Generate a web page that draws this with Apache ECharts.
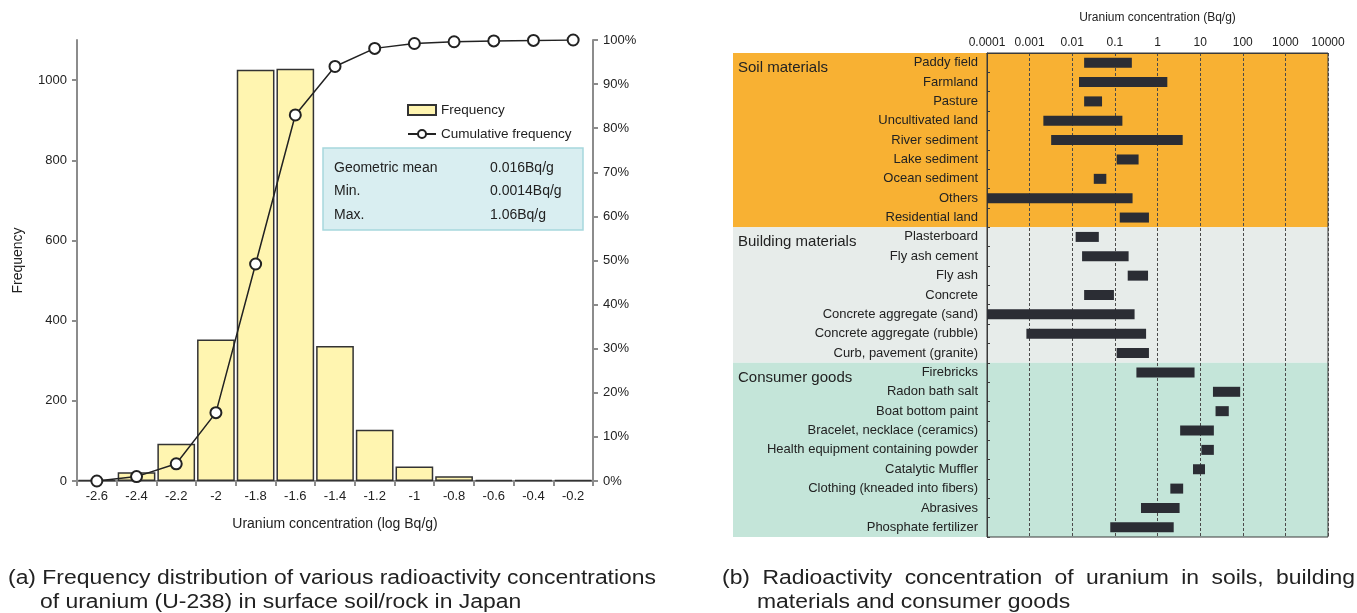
<!DOCTYPE html>
<html>
<head>
<meta charset="utf-8">
<script src="https://cdn.jsdelivr.net/npm/echarts@6/dist/echarts.min.js"></script>
<style>
  html, body { margin: 0; padding: 0; background: #fff; }
  #main { width: 1357px; height: 613px; }
</style>
</head>
<body>
<div id="main"></div>
<script>
// ---- (a) histogram of log10 uranium concentration in surface soil/rock ----
const binLabels = ['-2.6', '-2.4', '-2.2', '-2', '-1.8', '-1.6', '-1.4', '-1.2', '-1', '-0.8', '-0.6', '-0.4', '-0.2'];
const frequency = [2, 22, 93, 353, 1026, 1028, 337, 128, 36, 12, 3, 2, 2];
const cumulative = [0, 1.0, 3.9, 15.5, 49.2, 83.0, 94.0, 98.1, 99.2, 99.6, 99.8, 99.9, 100];
const freqTicks = [0, 200, 400, 600, 800, 1000];
const statLabels = ['Geometric mean', 'Min.', 'Max.'];
const statValues = ['0.016Bq/g', '0.0014Bq/g', '1.06Bq/g'];

// ---- (b) concentration ranges (Bq/g) by material ----
const groupNames = ['Soil materials', 'Building materials', 'Consumer goods'];
const soilItems = ['Paddy field', 'Farmland', 'Pasture', 'Uncultivated land', 'River sediment', 'Lake sediment', 'Ocean sediment', 'Others', 'Residential land'];
const soilMin = [0.019, 0.0144, 0.019, 0.0021, 0.0032, 0.11, 0.032, 0.0001, 0.13];
const soilMax = [0.25, 1.7, 0.05, 0.15, 3.9, 0.36, 0.063, 0.26, 0.63];
const buildingItems = ['Plasterboard', 'Fly ash cement', 'Fly ash', 'Concrete', 'Concrete aggregate (sand)', 'Concrete aggregate (rubble)', 'Curb, pavement (granite)'];
const buildingMin = [0.012, 0.017, 0.2, 0.019, 0.0001, 0.00084, 0.11];
const buildingMax = [0.042, 0.21, 0.6, 0.095, 0.29, 0.54, 0.63];
const consumerItems = ['Firebricks', 'Radon bath salt', 'Boat bottom paint', 'Bracelet, necklace (ceramics)', 'Health equipment containing powder', 'Catalytic Muffler', 'Clothing (kneaded into fibers)', 'Abrasives', 'Phosphate fertilizer'];
const consumerMin = [0.32, 20, 23, 3.4, 10.7, 6.8, 2.0, 0.41, 0.078];
const consumerMax = [7.4, 87, 47, 21, 21, 13, 4.0, 3.3, 2.4];
const concTickLabels = ['0.0001', '0.001', '0.01', '0.1', '1', '10', '100', '1000', '10000'];

const captionA = ['(a) Frequency distribution of various radioactivity concentrations', 'of uranium (U-238) in surface soil/rock in Japan'];
const captionB = ['(b) Radioactivity concentration of uranium in soils, building', 'materials and consumer goods'];

// ---- styling ----
const FONT = '"Liberation Sans", Arial, Helvetica, sans-serif';
const TEXT = '#222';
const AXIS_GRAY = '#8c8c8c';
const bandColors = ['#f8b133', '#e7ecea', '#c4e5d9'];

const groups = [
  { items: soilItems, lo: soilMin, hi: soilMax },
  { items: buildingItems, lo: buildingMin, hi: buildingMax },
  { items: consumerItems, lo: consumerMin, hi: consumerMax }
];
const allItems = [];
const rangeData = [];
const groupSpans = [];
groups.forEach(g => {
  const start = allItems.length;
  g.items.forEach((name, k) => {
    rangeData.push([allItems.length, g.lo[k], g.hi[k]]);
    allItems.push(name);
  });
  groupSpans.push([start, allItems.length - 1]);
});

const chart = echarts.init(document.getElementById('main'), null, { renderer: 'canvas' });

const grayLine = { color: AXIS_GRAY, width: 2 };

chart.setOption({
  animation: false,
  textStyle: { fontFamily: FONT },
  grid: [
    { left: 77, top: 40, width: 516, height: 441 },
    { left: 987, top: 53, width: 341, height: 484, show: true, borderColor: '#3a3a3a', borderWidth: 1, backgroundColor: 'transparent' }
  ],
  legend: {
    orient: 'vertical',
    left: 402,
    top: 98,
    itemWidth: 28,
    itemHeight: 10,
    itemGap: 10,
    textStyle: { fontSize: 13.5, color: TEXT, fontFamily: FONT },
    data: [{ name: 'Frequency', icon: 'rect' }, { name: 'Cumulative frequency' }]
  },
  xAxis: [
    {
      gridIndex: 0,
      type: 'category',
      data: binLabels,
      axisLine: { lineStyle: grayLine },
      axisTick: { show: true, length: 5, lineStyle: grayLine },
      axisLabel: { color: TEXT, fontSize: 13, margin: 9 },
      name: 'Uranium concentration (log Bq/g)',
      nameLocation: 'middle',
      nameGap: 36,
      nameTextStyle: { fontSize: 14, color: TEXT }
    },
    {
      gridIndex: 1,
      type: 'log',
      logBase: 10,
      min: 0.0001,
      max: 10000,
      position: 'top',
      axisLine: { show: true, lineStyle: { color: '#3a3a3a', width: 1 } },
      axisTick: { show: false },
      axisLabel: {
        color: TEXT,
        fontSize: 12,
        margin: 4,
        formatter: v => concTickLabels[Math.round(Math.log10(v)) + 4] || ''
      },
      splitLine: { show: true, lineStyle: { color: '#4a4a4a', width: 1, type: [3, 2] } },
      name: 'Uranium concentration (Bq/g)',
      nameLocation: 'middle',
      nameGap: 29,
      nameTextStyle: { fontSize: 12, color: TEXT }
    }
  ],
  yAxis: [
    {
      gridIndex: 0,
      type: 'value',
      min: 0,
      max: 1100,
      interval: 200,
      splitLine: { show: false },
      axisLine: { show: true, lineStyle: grayLine },
      axisTick: { show: true, length: 5, lineStyle: grayLine, customValues: freqTicks },
      axisLabel: { color: TEXT, fontSize: 13, margin: 10, customValues: freqTicks, formatter: v => String(v) },
      name: 'Frequency',
      nameLocation: 'middle',
      nameGap: 52,
      nameTextStyle: { fontSize: 14, color: TEXT }
    },
    {
      gridIndex: 0,
      type: 'value',
      position: 'right',
      min: 0,
      max: 100,
      interval: 10,
      splitLine: { show: false },
      axisLine: { show: true, lineStyle: grayLine },
      axisTick: { show: true, length: 5, lineStyle: grayLine },
      axisLabel: { color: TEXT, fontSize: 13, margin: 10, formatter: '{value}%' }
    },
    {
      gridIndex: 1,
      type: 'category',
      data: allItems,
      inverse: true,
      axisLine: { show: true, lineStyle: { color: '#3a3a3a', width: 1 } },
      axisTick: { show: true, inside: true, length: 3, lineStyle: { color: '#3a3a3a' } },
      axisLabel: { color: TEXT, fontSize: 13, margin: 9, padding: [3, 0, 0, 0] },
      splitLine: { show: false }
    }
  ],
  series: [
    {
      name: 'Frequency',
      type: 'bar',
      xAxisIndex: 0,
      yAxisIndex: 0,
      data: frequency,
      barCategoryGap: '5%',
      itemStyle: { color: '#fff5b0', borderColor: '#333', borderWidth: 1.5 },
      z: 2
    },
    {
      name: 'Cumulative frequency',
      type: 'line',
      xAxisIndex: 0,
      yAxisIndex: 1,
      data: cumulative,
      symbol: 'emptyCircle',
      symbolSize: 11,
      lineStyle: { color: '#222', width: 1.5 },
      itemStyle: { color: '#222', borderColor: '#222', borderWidth: 1.5 },
      z: 3
    },
    {
      name: 'ranges',
      type: 'custom',
      xAxisIndex: 1,
      yAxisIndex: 2,
      data: rangeData,
      encode: { x: [1, 2], y: 0 },
      renderItem: (params, api) => {
        const i = api.value(0);
        const p0 = api.coord([api.value(1), i]);
        const p1 = api.coord([api.value(2), i]);
        const h = 10;
        return {
          type: 'rect',
          shape: { x: p0[0], y: p0[1] - h / 2, width: p1[0] - p0[0], height: h },
          style: { fill: '#2b2d34' }
        };
      },
      z: 3
    }
  ]
});

// ---- background bands, group titles, stats box and captions ----
const measureCtx = document.createElement('canvas').getContext('2d');
const CAP_SIZE = 20;

function textWidth(text, size, font) {
  measureCtx.font = size + 'px ' + font;
  return measureCtx.measureText(text).width;
}

// horizontal scale so the first caption line spans its column
const capScale = (656 - 8) / textWidth(captionA[0], CAP_SIZE, FONT);

function captionText(text, x, y) {
  return {
    type: 'text', x: x, y: y, scaleX: capScale,
    style: { text: text, font: CAP_SIZE + 'px ' + FONT, fill: TEXT, textVerticalAlign: 'middle' }
  };
}

function justifiedLine(text, x0, x1, y) {
  const words = text.split(' ');
  const widths = words.map(w => textWidth(w, CAP_SIZE, FONT) * capScale);
  const total = widths.reduce((a, b) => a + b, 0);
  const gap = words.length > 1 ? (x1 - x0 - total) / (words.length - 1) : 0;
  const out = [];
  let x = x0;
  words.forEach((w, k) => {
    out.push(captionText(w, x, y));
    x += widths[k] + gap;
  });
  return out;
}

const graphics = [];
const gridRight = chart.convertToPixel({ gridIndex: 1 }, [10000, 0])[0];
const y0 = chart.convertToPixel({ gridIndex: 1 }, [1, 0])[1];
const y1 = chart.convertToPixel({ gridIndex: 1 }, [1, 1])[1];
const rowH = y1 - y0;
groupSpans.forEach((span, g) => {
  const top = chart.convertToPixel({ gridIndex: 1 }, [1, span[0]])[1] - rowH / 2;
  const bottom = chart.convertToPixel({ gridIndex: 1 }, [1, span[1]])[1] + rowH / 2;
  graphics.push({
    type: 'rect', z: -10,
    shape: { x: 733, y: top, width: gridRight - 733, height: bottom - top },
    style: { fill: bandColors[g] }
  });
  graphics.push({
    type: 'text', z: 10, x: 738, y: top + rowH / 2 + 5,
    style: { text: groupNames[g], font: '15px ' + FONT, fill: TEXT, textVerticalAlign: 'middle' }
  });
});

// summary statistics box
graphics.push({
  type: 'rect', z: 5,
  shape: { x: 323, y: 148, width: 260, height: 82 },
  style: { fill: '#d9eef1', stroke: '#a6d8dd', lineWidth: 1.5 }
});
statLabels.forEach((s, k) => {
  graphics.push({
    type: 'text', z: 6, x: 334, y: 168 + k * 23.5,
    style: { text: s, font: '14px ' + FONT, fill: TEXT, textVerticalAlign: 'middle' }
  });
  graphics.push({
    type: 'text', z: 6, x: 490, y: 168 + k * 23.5,
    style: { text: statValues[k], font: '14px ' + FONT, fill: TEXT, textVerticalAlign: 'middle' }
  });
});

// captions
graphics.push(captionText(captionA[0], 8, 578));
graphics.push(captionText(captionA[1], 40, 602));
graphics.push(...justifiedLine(captionB[0], 722, 1355, 578));
graphics.push(captionText(captionB[1], 757, 602));

chart.setOption({ graphic: { elements: graphics } });
</script>
</body>
</html>
